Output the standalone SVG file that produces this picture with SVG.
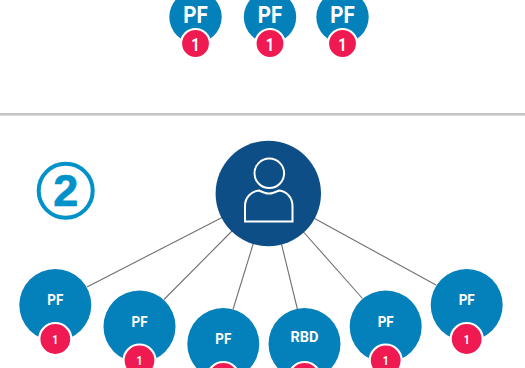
<svg xmlns="http://www.w3.org/2000/svg" width="525" height="368" viewBox="0 0 525 368">
<style>
.n{fill:#0480bb}
.b{fill:#ef1a51;stroke:#fff;stroke-width:2.2}
.t{font-family:"Roboto","Liberation Sans",sans-serif;font-weight:700;fill:#fff;text-anchor:middle}
.lg{font-size:23px}
.sm{font-size:15.5px}
.c{font-size:13.5px}
.ct{font-size:19px}
#connectors line{stroke:#707070;stroke-width:1.1}
</style>
<rect width="525" height="368" fill="#fff"/>
<rect id="divider" x="0" y="113" width="525" height="2.6" fill="#c4c4c4"/>
<g id="connectors">
<line x1="87" y1="287" x2="225" y2="216"/>
<line x1="164" y1="299.5" x2="235" y2="228"/>
<line x1="233" y1="309.5" x2="255" y2="238"/>
<line x1="297.5" y1="309.5" x2="280" y2="238"/>
<line x1="362.5" y1="298.5" x2="300" y2="228"/>
<line x1="436" y1="285" x2="310" y2="216"/>
</g>
<g id="top-pf-1"><circle class="n" cx="195.5" cy="17" r="26.2"/><circle class="b" cx="195.5" cy="43.5" r="14.5"/><text class="t lg" x="195.5" y="22.7" textLength="24.5" lengthAdjust="spacingAndGlyphs">PF</text><text class="t ct" x="195.5" y="50.5" textLength="8.5" lengthAdjust="spacingAndGlyphs">1</text></g>
<g id="top-pf-2"><circle class="n" cx="270" cy="17" r="26.2"/><circle class="b" cx="270" cy="43.5" r="14.5"/><text class="t lg" x="270" y="22.7" textLength="24.5" lengthAdjust="spacingAndGlyphs">PF</text><text class="t ct" x="270" y="50.5" textLength="8.5" lengthAdjust="spacingAndGlyphs">1</text></g>
<g id="top-pf-3"><circle class="n" cx="342.5" cy="17" r="26.2"/><circle class="b" cx="342.5" cy="43.5" r="14.5"/><text class="t lg" x="342.5" y="22.7" textLength="24.5" lengthAdjust="spacingAndGlyphs">PF</text><text class="t ct" x="342.5" y="50.5" textLength="8.5" lengthAdjust="spacingAndGlyphs">1</text></g>
<g id="step-2"><circle cx="65.7" cy="190.7" r="27" fill="none" stroke="#0092c8" stroke-width="4"/><text x="65.7" y="206" font-family="Liberation Sans, sans-serif" font-weight="700" font-size="45" fill="#0092c8" stroke="#0092c8" stroke-width="0.7" text-anchor="middle">2</text></g>
<g id="hub"><circle cx="268.3" cy="193.5" r="52.7" fill="#0e4e87"/>
<circle cx="269.3" cy="173.3" r="14.8" fill="none" stroke="#fff" stroke-width="2"/>
<path d="M245,221.5 V206 C245,197 252,191 259,190.5 C263,192.5 266,193.5 269,193.5 C272,193.5 275,192.5 279,190.5 C286,191 292.5,197 292.5,206 V221.5 Z" fill="none" stroke="#fff" stroke-width="2"/></g>
<g id="pf-1"><circle class="n" cx="55.3" cy="305" r="36"/><circle class="b" cx="55.3" cy="339" r="16"/><text class="t sm" x="55.3" y="305" textLength="16" lengthAdjust="spacingAndGlyphs">PF</text><text class="t c" x="55.3" y="343.5" textLength="6" lengthAdjust="spacingAndGlyphs">1</text></g>
<g id="pf-2"><circle class="n" cx="139.5" cy="326.5" r="36"/><circle class="b" cx="139.5" cy="360.5" r="16"/><text class="t sm" x="139.5" y="326.7" textLength="16" lengthAdjust="spacingAndGlyphs">PF</text><text class="t c" x="139.5" y="365" textLength="6" lengthAdjust="spacingAndGlyphs">1</text></g>
<g id="pf-3"><circle class="n" cx="223.3" cy="344" r="36"/><circle class="b" cx="223.3" cy="378" r="16"/><text class="t sm" x="223.3" y="344" textLength="16" lengthAdjust="spacingAndGlyphs">PF</text></g>
<g id="rbd"><circle class="n" cx="304.5" cy="344" r="36"/><circle class="b" cx="304.5" cy="378" r="16"/><text class="t sm" x="304.5" y="342" textLength="28" lengthAdjust="spacingAndGlyphs">RBD</text></g>
<g id="pf-5"><circle class="n" cx="385.7" cy="326.5" r="36"/><circle class="b" cx="385.7" cy="360.5" r="16"/><text class="t sm" x="385.7" y="326.7" textLength="16" lengthAdjust="spacingAndGlyphs">PF</text><text class="t c" x="385.7" y="365" textLength="6" lengthAdjust="spacingAndGlyphs">1</text></g>
<g id="pf-6"><circle class="n" cx="466.7" cy="305" r="36"/><circle class="b" cx="466.7" cy="339" r="16"/><text class="t sm" x="466.7" y="305" textLength="16" lengthAdjust="spacingAndGlyphs">PF</text><text class="t c" x="466.7" y="343.5" textLength="6" lengthAdjust="spacingAndGlyphs">1</text></g>
</svg>
